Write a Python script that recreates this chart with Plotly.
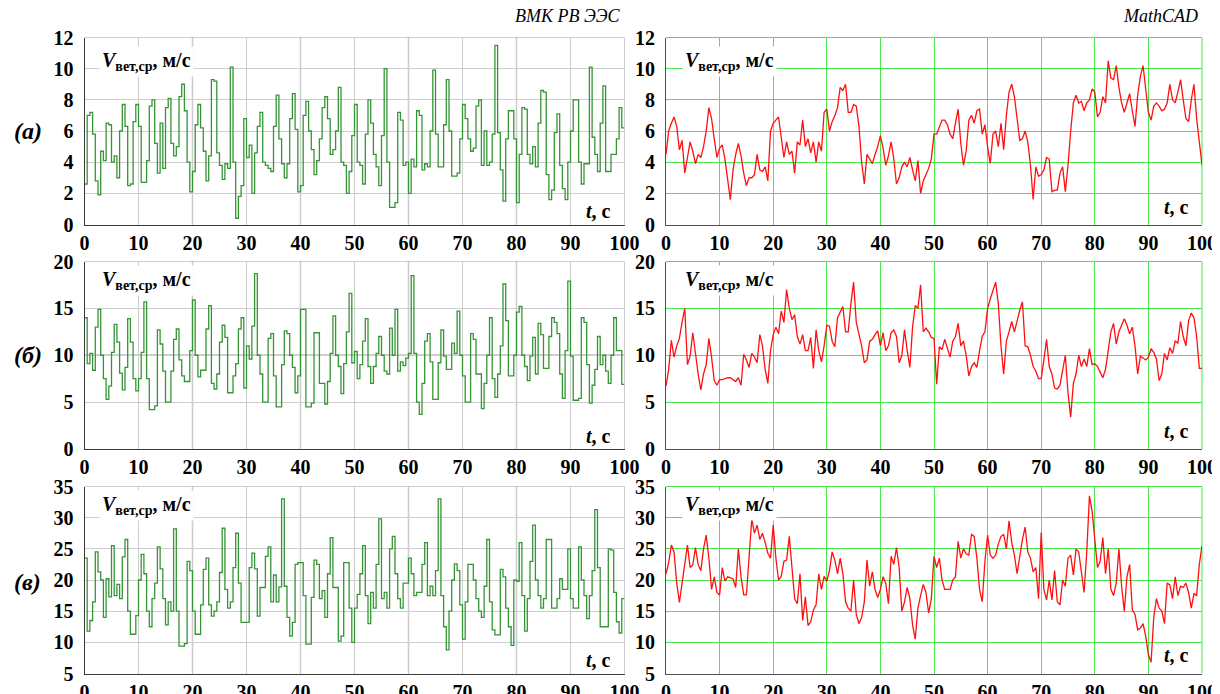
import numpy as np
import plotly.graph_objects as go

# ---------------- data (wind speed, m/s), sampled every 0.5 s ----------------
T = [round(i * 0.5, 1) for i in range(201)]

A_VMK = [2.6,7.0,7.2,5.8,2.8,1.9,4.7,4.1,6.5,6.4,
         4.0,4.4,3.0,6.0,7.7,6.3,2.5,2.6,6.6,7.7,
         6.3,2.7,2.7,4.1,7.6,8.0,5.2,3.3,6.5,3.6,
         7.5,8.1,5.2,4.4,5.0,8.2,9.0,7.3,4.0,2.1,
         3.4,6.4,7.7,6.2,4.7,2.8,4.4,9.3,9.2,4.6,
         3.8,2.9,3.9,3.6,10.1,4.0,0.4,1.8,2.5,6.8,
         4.3,5.1,2.0,4.6,6.3,7.2,4.0,3.8,3.6,3.4,
         6.3,8.3,5.5,3.9,3.0,3.9,6.8,8.4,6.1,2.1,
         2.5,7.0,7.9,6.0,4.8,3.2,4.1,5.5,7.5,8.2,
         6.8,4.5,4.8,6.0,8.8,4.0,3.8,2.0,3.4,5.7,
         7.7,4.0,3.8,2.6,5.8,8.0,6.5,4.5,3.7,2.5,
         5.7,10.0,4.0,1.1,1.1,1.4,7.2,6.7,3.8,4.0,
         2.0,4.2,3.7,7.3,7.0,3.5,3.9,3.7,6.0,9.9,
         5.8,3.7,3.7,6.4,9.3,6.0,3.1,3.1,3.3,5.5,
         7.7,6.8,5.5,4.7,4.9,7.6,8.0,3.8,6.0,3.8,
         4.0,5.8,11.5,5.9,3.5,1.5,5.5,7.3,7.3,5.5,
         1.4,4.5,7.5,7.4,4.5,3.9,5.0,3.7,6.5,8.6,
         8.5,3.2,1.6,2.2,5.9,7.1,3.8,2.3,1.6,4.0,
         6.0,8.0,8.0,4.0,2.6,3.9,3.9,10.1,5.6,4.5,
         3.4,6.5,8.9,3.4,3.4,4.5,4.5,5.5,7.5,6.2]

A_MC = [4.5,6.0,6.5,6.9,6.3,4.8,5.4,3.3,4.3,5.3,
        4.7,3.9,4.5,4.3,5.0,6.0,7.5,6.8,5.5,4.3,
        4.9,5.1,4.2,2.8,1.6,3.5,4.5,5.2,4.4,3.3,
        2.5,3.0,3.0,3.2,4.5,3.5,3.4,3.7,2.8,6.0,
        6.5,6.7,6.9,5.6,4.3,5.3,4.5,4.7,3.3,5.3,
        5.1,6.7,5.0,5.5,4.6,5.3,4.0,5.3,4.7,7.2,
        7.4,6.0,6.6,7.0,7.5,8.8,8.6,9.0,7.2,7.2,
        7.7,7.6,6.3,4.0,2.6,4.5,4.2,3.9,4.5,5.0,
        5.7,4.9,3.8,4.4,5.3,4.2,2.6,3.0,3.7,4.0,
        3.7,4.3,3.5,2.8,4.1,2.0,2.8,3.2,3.6,4.2,
        5.8,5.8,6.2,6.7,6.7,6.4,5.8,5.5,6.5,7.4,
        5.2,3.8,4.7,6.7,7.0,6.5,7.3,7.4,5.8,6.4,
        5.0,3.9,5.8,6.0,5.0,6.5,4.8,7.0,8.5,9.0,
        8.2,6.8,5.4,5.5,6.0,5.3,3.8,1.6,3.7,3.1,
        3.2,3.5,4.3,4.2,2.1,2.2,2.2,3.3,3.7,2.1,
        3.8,6.0,7.8,8.3,7.8,7.9,7.3,7.8,8.0,8.7,
        8.5,6.9,7.2,8.2,7.8,10.5,9.4,9.3,10.2,8.8,
        7.8,7.2,7.8,8.4,7.3,6.3,8.3,9.5,10.2,8.5,
        7.2,6.7,7.6,7.8,7.6,7.3,7.4,7.8,9.0,8.0,
        7.8,8.5,9.3,8.0,6.8,6.6,8.0,9.0,6.8,5.3,
        3.8]

B_VMK = [14.0,9.1,10.2,8.4,13.0,14.9,10.0,7.5,5.3,6.7,
         10.3,13.3,11.4,8.1,6.3,8.7,13.9,11.4,7.5,6.2,
         7.5,10.3,15.7,7.5,4.2,4.2,4.6,12.7,11.2,8.3,
         5.0,5.0,8.3,11.7,12.8,9.5,7.8,7.2,7.2,10.5,
         15.9,10.0,7.7,8.4,8.4,12.8,15.3,7.0,6.4,8.0,
         11.4,13.2,11.9,6.0,6.0,7.8,9.1,12.8,14.0,6.5,
         11.0,9.6,13.1,18.7,10.0,8.0,5.0,5.0,11.8,12.3,
         7.8,4.5,4.5,9.0,12.6,12.3,10.0,8.7,6.0,7.8,
         14.9,14.9,4.5,4.5,4.9,12.4,12.4,7.0,7.0,4.8,
         7.2,10.2,14.2,10.0,8.8,5.9,9.1,12.5,16.6,9.2,
         10.4,7.5,9.0,11.5,13.9,8.8,7.0,8.8,10.2,12.0,
         10.0,8.3,8.0,12.9,10.0,14.9,8.3,9.3,8.9,9.7,
         10.2,18.5,10.2,5.0,3.7,7.0,11.5,12.3,9.3,5.3,
         5.3,9.2,12.7,9.9,8.5,8.5,11.3,10.2,14.7,10.0,
         7.8,5.0,5.0,12.3,11.7,8.0,8.0,4.3,7.0,10.0,
         14.0,7.5,5.5,8.0,11.0,17.6,13.7,7.8,7.8,10.0,
         14.6,15.2,10.0,8.8,7.3,9.9,11.9,8.0,13.4,12.2,
         8.6,8.6,12.0,14.0,13.5,12.3,8.0,5.4,10.5,17.9,
         9.9,5.2,5.2,5.4,14.0,13.5,9.0,4.9,6.8,8.5,
         12.0,9.0,10.0,8.3,7.0,10.0,14.0,10.5,10.5,6.9]

B_MC = [6.7,8.5,11.6,9.8,11.0,11.8,13.5,15.0,9.0,9.9,
        12.4,10.0,8.0,6.3,8.0,9.0,11.8,9.8,7.3,6.8,
        7.4,7.4,7.5,7.6,7.6,7.4,7.2,7.6,6.8,10.1,
        9.5,8.7,10.2,9.8,9.2,12.2,11.0,8.5,7.0,10.5,
        12.2,13.0,12.3,14.7,13.5,17.0,15.0,13.8,14.3,12.0,
        11.2,12.2,10.5,10.5,11.9,8.6,12.7,10.5,9.3,11.0,
        13.2,13.1,11.5,10.9,14.0,14.6,15.2,12.5,12.5,15.5,
        17.8,13.5,12.2,11.0,9.2,9.5,11.5,11.7,12.2,12.6,
        11.0,12.4,10.5,11.0,12.4,12.7,12.0,9.2,10.0,12.7,
        10.5,8.7,13.0,15.3,15.0,17.5,12.5,12.9,12.5,11.9,
        11.8,6.9,10.9,10.6,11.7,10.6,9.8,11.5,12.0,13.4,
        11.0,11.5,10.0,7.8,8.8,9.2,8.7,10.5,12.0,12.5,
        15.0,16.0,17.0,17.8,15.5,11.0,8.0,11.5,12.5,13.6,
        12.5,13.7,14.8,15.7,11.0,10.9,10.0,8.8,8.3,7.5,
        7.5,9.5,11.7,8.8,8.0,6.5,6.4,6.8,8.5,10.0,
        6.0,3.4,7.0,8.0,10.0,8.8,9.6,8.8,10.7,9.0,
        9.1,8.8,8.2,7.6,8.5,10.5,12.5,13.4,11.2,12.5,
        13.3,13.9,13.2,12.3,13.0,11.0,8.0,9.9,9.7,9.5,
        9.8,10.7,10.3,9.6,7.3,8.0,10.2,9.5,10.8,10.2,
        11.5,11.3,13.6,12.0,11.0,13.7,14.5,14.0,12.0,8.6,
        8.6]

C_VMK = [23.5,11.8,13.5,16.5,24.5,21.3,20.0,14.0,20.2,17.3,
         25.5,17.5,19.3,17.0,23.7,26.5,15.0,11.3,11.3,14.3,
         20.0,24.1,21.0,15.0,12.5,17.0,19.5,25.3,21.8,17.0,
         12.8,16.5,15.0,28.2,15.0,9.4,9.4,9.8,23.0,21.5,
         15.0,11.3,11.3,16.0,21.7,23.5,16.0,14.2,15.0,16.5,
         21.2,28.3,18.5,15.5,16.5,22.0,27.5,19.5,13.2,13.2,
         13.2,22.0,24.3,21.8,14.2,18.8,18.8,23.8,25.3,16.5,
         20.8,16.5,18.9,33.0,19.0,14.0,11.0,13.2,22.5,22.8,
         22.8,17.5,9.7,9.7,17.2,23.2,22.5,17.0,18.3,14.0,
         21.0,26.8,18.8,18.8,10.2,11.0,22.8,22.8,15.5,10.0,
         15.5,17.7,21.0,25.5,17.5,13.0,18.0,15.5,22.5,29.8,
         17.0,18.0,15.5,25.0,27.0,21.0,17.0,15.5,19.5,19.5,
         23.5,21.0,17.5,18.0,18.0,22.5,26.0,17.5,19.0,17.5,
         21.5,33.0,17.5,12.5,8.8,15.0,20.0,22.6,21.5,16.0,
         10.5,16.5,22.5,22.5,20.0,17.0,15.0,14.0,19.0,26.5,
         16.5,12.0,11.2,11.2,21.7,20.5,15.5,12.5,9.5,20.0,
         19.8,26.0,17.5,11.8,17.0,23.0,28.8,20.0,17.5,15.5,
         17.0,26.5,26.5,15.5,15.5,17.0,20.2,18.5,18.5,25.0,
         17.0,15.5,15.5,25.3,20.0,17.5,13.8,17.5,21.5,31.3,
         22.0,12.5,12.5,12.5,25.0,24.8,18.0,13.3,11.5,17.0]

C_MC = [21.0,22.8,25.6,24.5,19.5,16.4,19.5,22.5,25.6,22.0,
        22.4,25.2,22.5,21.5,25.0,27.2,23.5,18.5,20.5,18.0,
        17.6,22.0,19.8,20.5,20.4,20.2,18.8,25.0,20.5,17.6,
        17.6,23.5,29.8,27.5,28.8,26.5,27.5,26.0,24.3,23.5,
        28.8,23.5,20.0,20.6,23.0,23.2,27.0,22.0,17.0,16.2,
        21.0,13.5,17.3,12.7,13.3,15.2,16.0,21.0,18.5,20.6,
        19.8,21.5,24.5,23.2,21.0,23.5,21.0,16.5,15.5,15.0,
        20.0,14.5,13.0,14.0,16.5,23.2,19.0,21.3,18.5,17.2,
        18.5,20.5,19.5,16.2,23.8,22.5,25.2,22.0,15.0,16.5,
        18.8,17.0,12.8,10.5,15.5,17.5,19.3,18.0,14.7,17.0,
        23.8,22.0,23.5,20.0,18.5,18.5,18.5,20.0,20.5,26.2,
        23.5,25.0,24.2,24.0,27.3,27.0,23.5,18.5,16.5,23.0,
        27.2,24.0,23.5,24.0,25.8,27.0,27.3,25.0,29.5,26.0,
        24.0,21.0,24.0,26.5,28.5,24.5,23.5,21.3,22.0,17.0,
        27.6,18.5,16.8,20.0,16.8,21.5,16.5,16.0,20.0,19.0,
        23.5,24.0,20.8,25.0,24.5,21.5,18.0,24.5,33.5,31.0,
        27.0,22.0,23.0,26.8,21.0,25.0,18.5,17.5,19.5,25.0,
        19.0,15.0,20.5,22.5,15.2,14.5,12.0,12.3,13.0,11.0,
        8.0,6.8,14.0,17.0,15.5,15.0,13.0,19.5,19.2,17.0,
        20.5,17.5,19.0,18.8,19.5,18.0,15.5,17.8,17.5,22.5,
        25.5]

Y_RANGES = [[0, 12], [0, 20], [5, 35]]
Y_DTICKS = [2, 5, 5]
ROW_LABELS = ["(а)", "(б)", "(в)"]
TITLE_LEFT = "ВМК РВ ЭЭС"
TITLE_RIGHT = "MathCAD"

# ---------------- figure ----------------
# The page body has an 8 px margin, so the figure is drawn 8 px in from the
# window corner; size it to fill the rest of the 1220x694 window exactly.
OFF = 8
W, H = 1220 - OFF, 694 - OFF
def px(x): return (x - OFF) / W          # window pixel -> paper fraction
def py(y): return 1 - (y - OFF) / H

SERIF = "Liberation Serif, Times New Roman, DejaVu Serif, serif"
GREEN = "#359535"
RED = "#ff1010"
GRID_L = "#cdcdcd"
GRID_L_DARK = "#a3a3a3"
GRID_R = "#4ce64c"

fig = go.Figure()

series = [A_VMK, A_MC, B_VMK, B_MC, C_VMK, C_MC]
for k, vals in enumerate(series):
    ax = "" if k == 0 else str(k + 1)
    if k % 2 == 0:
        fig.add_trace(go.Scatter(x=T, y=vals + [vals[-1]], mode="lines",
                                 line=dict(color=GREEN, width=1.3, shape="hv"),
                                 xaxis="x" + ax, yaxis="y" + ax, showlegend=False,
                                 hoverinfo="skip"))
    else:
        fig.add_trace(go.Scatter(x=T, y=vals, mode="lines",
                                 line=dict(color=RED, width=1.3),
                                 xaxis="x" + ax, yaxis="y" + ax, showlegend=False,
                                 hoverinfo="skip"))

xdom = [[px(84.5), px(624.5)], [px(666), px(1202)]]
ydom = [[py(224.5), py(37.5)], [py(449), py(261.5)], [py(673.5), py(486.5)]]
tickfont = dict(family=SERIF, size=20, color="black", weight="bold")

layout = dict(width=W, height=H, margin=dict(l=0, r=0, t=0, b=0, pad=0, autoexpand=False),
              paper_bgcolor="white", plot_bgcolor="white", showlegend=False,
              font=dict(family=SERIF))
shapes = []
annotations = []
for r in range(3):
    for c in range(2):
        k = r * 2 + c
        ax = "" if k == 0 else str(k + 1)
        grid = GRID_L if c == 0 else GRID_R
        lc = "#3a3a3a" if c == 0 else "#505050"
        layout["xaxis" + ax] = dict(domain=xdom[c], range=[0, 100], dtick=10, tick0=0,
                                    showgrid=True, gridcolor=grid, gridwidth=1,
                                    zeroline=False, showline=True, linecolor=lc, linewidth=1.2,
                                    ticks="", tickfont=tickfont, ticklabelstandoff=0,
                                    automargin=False, anchor="y" + ax, fixedrange=True)
        layout["yaxis" + ax] = dict(domain=ydom[r], range=Y_RANGES[r], dtick=Y_DTICKS[r],
                                    tick0=0, showgrid=True, gridcolor=grid, gridwidth=1,
                                    zeroline=False, showline=True, linecolor=lc, linewidth=1.2,
                                    ticks="", tickfont=tickfont, ticklabelstandoff=6,
                                    automargin=False, anchor="x" + ax, fixedrange=True)
        shapes.append(dict(type="line", xref="x" + ax + " domain", yref="y" + ax + " domain",
                           x0=0, x1=1, y0=1, y1=1, line=dict(color=grid, width=1), layer="below"))
        shapes.append(dict(type="line", xref="x" + ax + " domain", yref="y" + ax + " domain",
                           x0=1, x1=1, y0=0, y1=1, line=dict(color=grid, width=1), layer="below"))
        if c == 0:
            for tv in (20, 40, 60, 80):
                shapes.append(dict(type="line", xref="x" + ax, yref="y" + ax + " domain",
                                   x0=tv, x1=tv, y0=0, y1=1,
                                   line=dict(color=GRID_L_DARK, width=1.3), layer="below"))
            if r == 1:
                shapes.append(dict(type="line", xref="x" + ax + " domain", yref="y" + ax,
                                   x0=0, x1=1, y0=10, y1=10,
                                   line=dict(color=GRID_L_DARK, width=1.3), layer="below"))

# labels
vlab_y = [62, 280, 505]
tlab_y = [[211, 207], [436, 431], [660, 655]]
row_y = [131, 355, 582]
for r in range(3):
    for c, xl in enumerate([99, 682]):
        annotations.append(dict(xref="paper", yref="paper", x=px(xl), y=py(vlab_y[r]),
                                xanchor="left", yanchor="middle", showarrow=False,
                                text="<b><i>V</i><sub>вет,ср</sub>, м/с</b>",
                                font=dict(family=SERIF, size=20, color="black"),
                                bgcolor="white", borderpad=2))
    for c, xr in enumerate([613, 1191]):
        annotations.append(dict(xref="paper", yref="paper", x=px(xr), y=py(tlab_y[r][c]),
                                xanchor="right", yanchor="middle", showarrow=False,
                                text="<b><i>t</i>, с</b>",
                                font=dict(family=SERIF, size=20, color="black")))
    annotations.append(dict(xref="paper", yref="paper", x=px(28), y=py(row_y[r]),
                            xanchor="center", yanchor="middle", showarrow=False,
                            text="<b><i>" + ROW_LABELS[r] + "</i></b>",
                            font=dict(family=SERIF, size=24, color="black")))

annotations.append(dict(xref="paper", yref="paper", x=px(623), y=py(16),
                        xanchor="right", yanchor="middle", showarrow=False,
                        text="<i>" + TITLE_LEFT + "</i>",
                        font=dict(family=SERIF, size=18, color="black")))
annotations.append(dict(xref="paper", yref="paper", x=px(1200), y=py(16),
                        xanchor="right", yanchor="middle", showarrow=False,
                        text="<i>" + TITLE_RIGHT + "</i>",
                        font=dict(family=SERIF, size=18, color="black")))

layout["shapes"] = shapes
layout["annotations"] = annotations
fig.update_layout(**layout)
fig.write_html("out.html")
